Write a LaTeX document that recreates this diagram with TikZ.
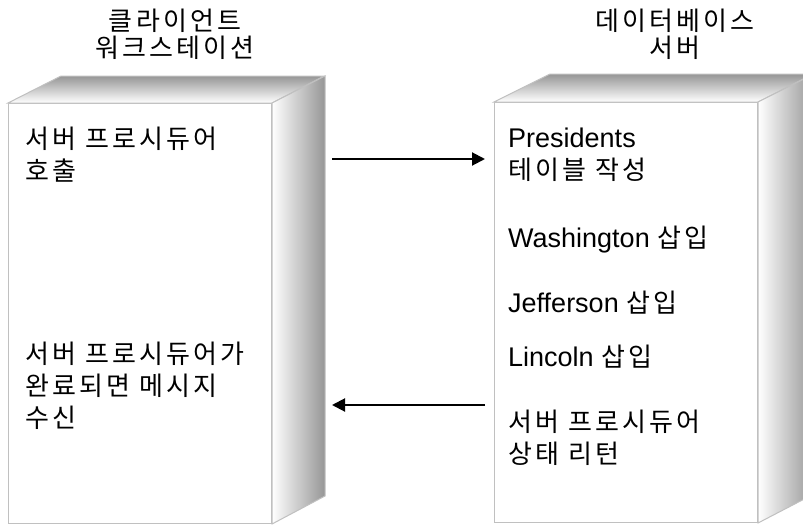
\documentclass[tikz,border=0pt]{standalone}
\usepackage{fontspec}
\setmainfont{Liberation Sans}
\newfontfamily\kr[LetterSpace=12]{Noto Sans CJK KR}
\usetikzlibrary{arrows.meta}
\definecolor{EdgeGray}{RGB}{192,192,192}
\definecolor{ShadeGray}{RGB}{150,150,150}
\tikzset{
  frontface/.style={draw=EdgeGray, fill=white, line width=1pt, minimum width=263pt,
    minimum height=420pt, inner sep=0pt, anchor=north west},
  topface/.style={draw=EdgeGray, line width=1pt, top color=ShadeGray, bottom color=white},
  sideface/.style={draw=EdgeGray, line width=1pt, left color=white, right color=ShadeGray},
  headtxt/.style={align=center, font=\fontsize{26}{27}\selectfont\kr, inner sep=0pt},
  boxtxt/.style={align=left, anchor=west, font=\fontsize{27}{32}\selectfont, inner sep=0pt},
  krtxt/.style={boxtxt, font=\fontsize{26}{32}\selectfont\kr},
  msg/.style={-{Triangle[length=13pt, width=13pt]}, line width=2pt, black},
}

\begin{document}
\begin{tikzpicture}[x=1pt, y=-1pt]
  \useasboundingbox (0,0) rectangle (803,525);
  \clip (0,0) rectangle (803,525);

  % client workstation
  \node[frontface] (client) at (8,103) {};
  \path[topface] (client.north west) -- ++(53,-27) -- ++(263,0) -- (client.north east) -- cycle;
  \path[sideface] (client.north east) -- ++(53,-27) -- ++(0,420) -- (client.south east) -- cycle;

  % database server
  \node[frontface] (server) at (494,102) {};
  \path[topface] (server.north west) -- ++(56,-28) -- ++(263,0) -- (server.north east) -- cycle;
  \path[sideface] (server.north east) -- ++(56,-28) -- ++(0,420) -- (server.south east) -- cycle;

  \node[headtxt] (clienthead) at (175,34) {클라이언트\\워크스테이션};
  \node[headtxt] (serverhead) at (675,34) {데이터베이스\\서버};

  \node[krtxt] (call) at (25,155) {서버 프로시듀어\\호출};
  \node[krtxt] (receive) at (25,386) {서버 프로시듀어가\\완료되면 메시지\\수신};

  \node[boxtxt] (create) at (508,155) {Presidents\\{\kr\fontsize{26}{32}\selectfont 테이블 작성}};
  \node[boxtxt] (washington) at (508,240) {Washington {\kr\fontsize{26}{32}\selectfont 삽입}};
  \node[boxtxt] (jefferson) at (508,303) {Jefferson {\kr\fontsize{26}{32}\selectfont 삽입}};
  \node[boxtxt] (lincoln) at (508,357) {Lincoln {\kr\fontsize{26}{32}\selectfont 삽입}};
  \node[krtxt] (status) at (508,438) {서버 프로시듀어\\상태 리턴};

  \coordinate (callfrom) at (332,159);
  \coordinate (callto) at (485,159);
  \coordinate (retfrom) at (485,405);
  \coordinate (retto) at (332,405);
  \draw[msg] (callfrom) -- (callto);
  \draw[msg] (retfrom) -- (retto);
\end{tikzpicture}
\end{document}
